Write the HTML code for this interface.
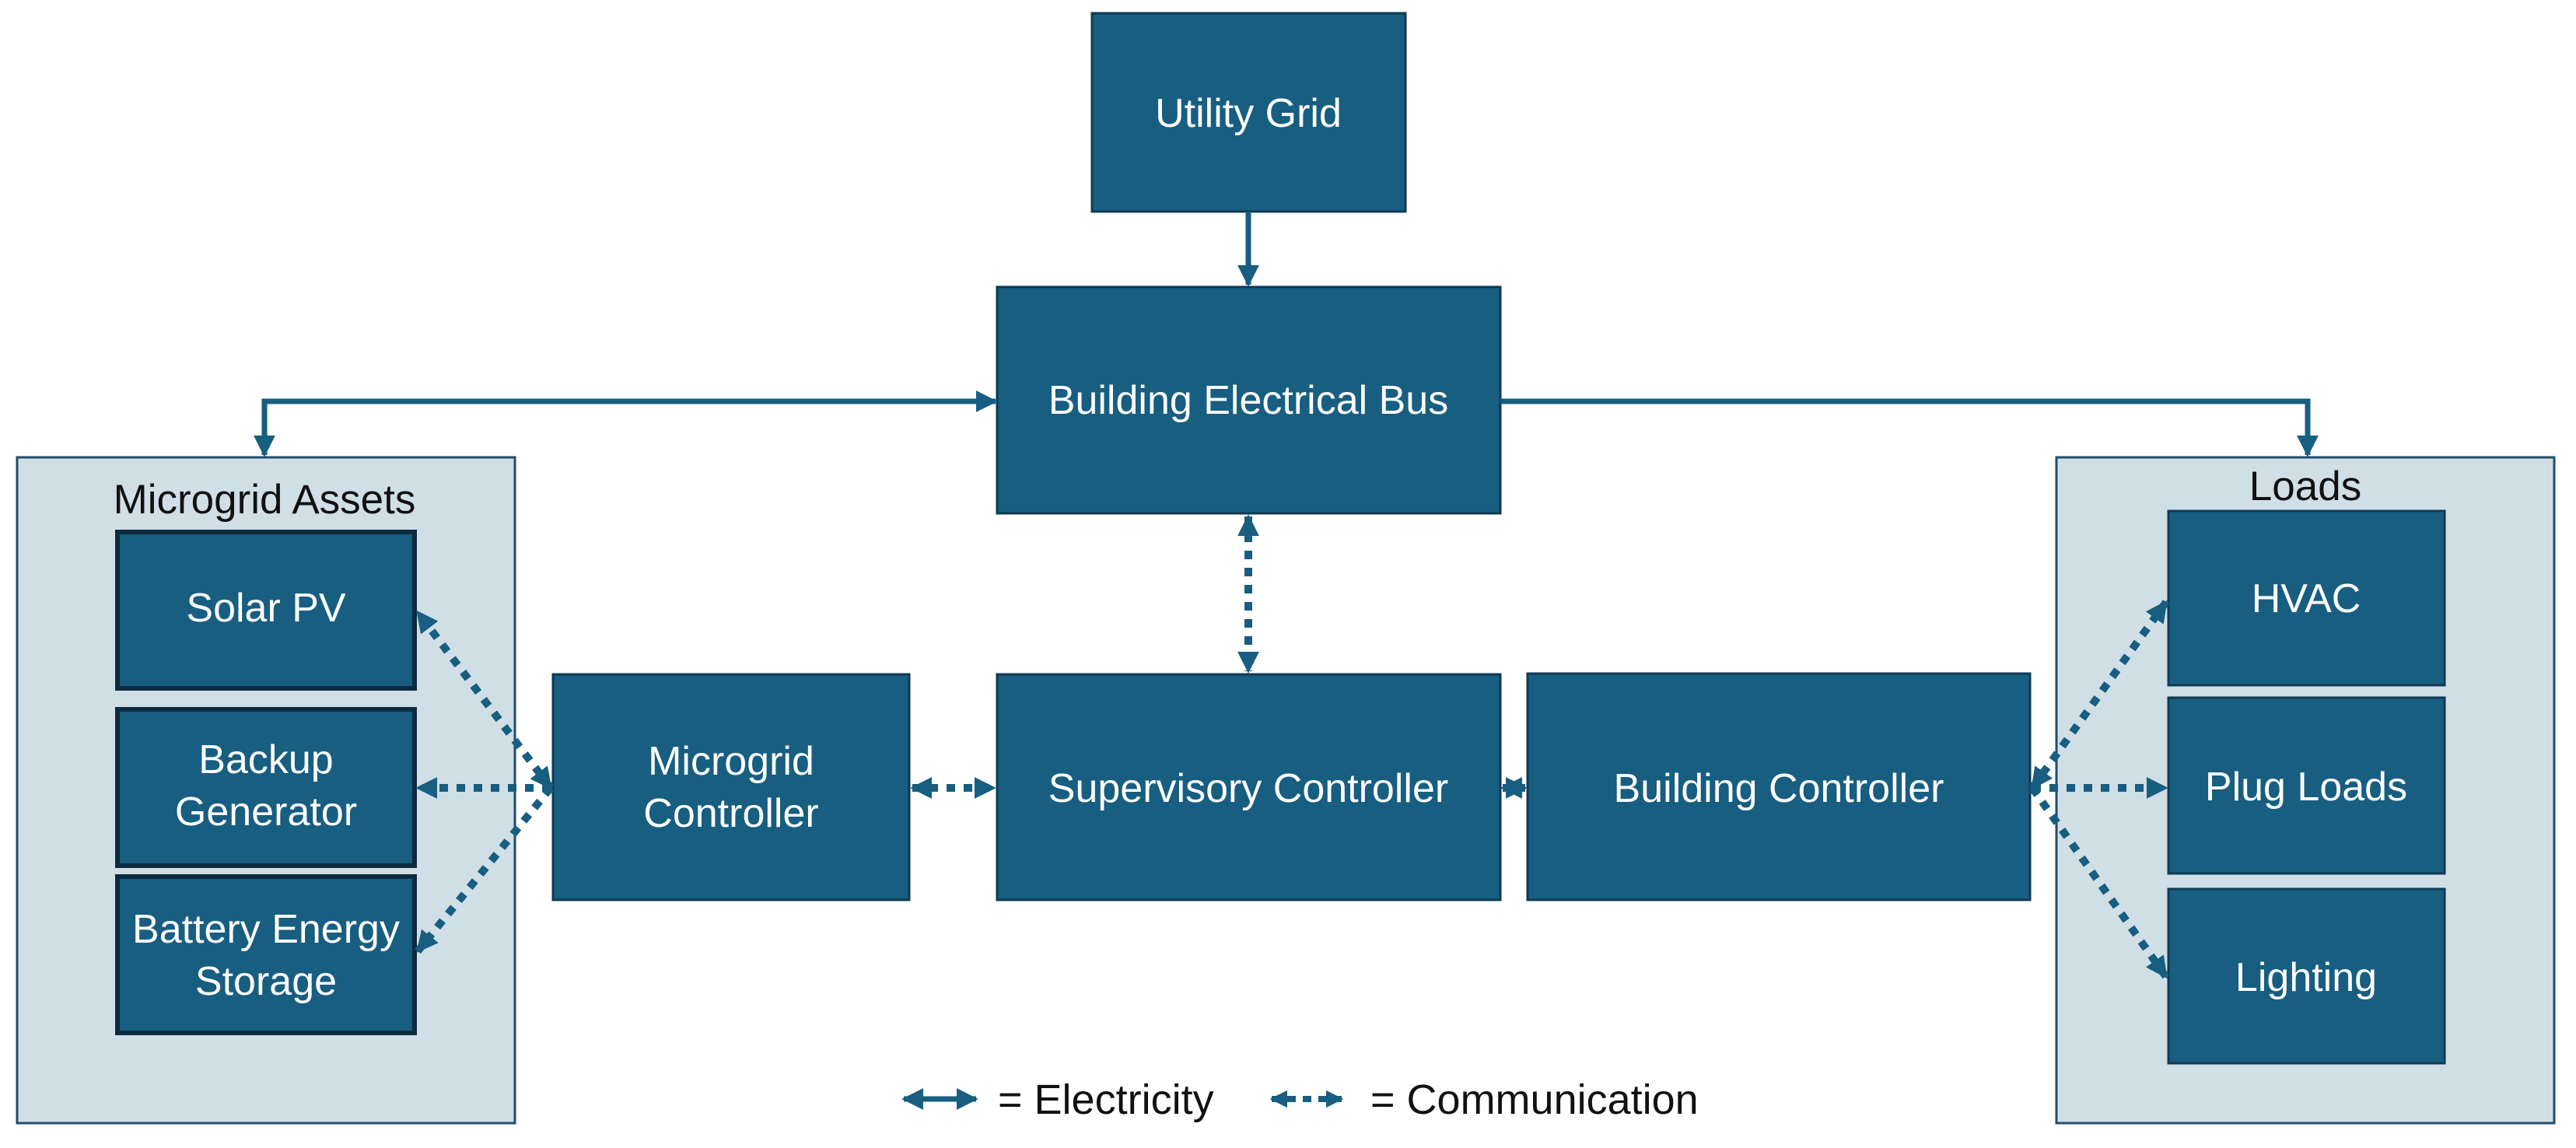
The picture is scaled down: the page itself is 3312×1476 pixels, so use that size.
<!DOCTYPE html>
<html><head><meta charset="utf-8"><style>
html,body{margin:0;padding:0;background:#fff}
svg{display:block}
text{font-family:"Liberation Sans",sans-serif}
</style></head><body>
<svg width="3312" height="1476" viewBox="0 0 3312 1476" xmlns="http://www.w3.org/2000/svg">
<defs>
<marker id="ah" viewBox="0 0 10 10" refX="9" refY="5" markerWidth="4" markerHeight="4" orient="auto-start-reverse" markerUnits="strokeWidth">
<path d="M0,0 L10,5 L0,10 Z" fill="#175e81"/></marker>
<marker id="ahd" viewBox="0 0 10 10" refX="9" refY="5" markerWidth="2.8" markerHeight="2.8" orient="auto-start-reverse" markerUnits="strokeWidth">
<path d="M0,0 L10,5 L0,10 Z" fill="#175e81"/></marker>
</defs>
<rect x="22" y="588" width="640" height="856" fill="#d0dee6" stroke="#1f4e6a" stroke-width="3"/>
<rect x="2644" y="588" width="640" height="856" fill="#d0dee6" stroke="#1f4e6a" stroke-width="3"/>
<text x="340" y="660" font-size="53" text-anchor="middle" fill="#111">Microgrid Assets</text>
<text x="2964" y="643" font-size="53" text-anchor="middle" fill="#111">Loads</text>

<g fill="#175e81" stroke="#0f3a52" stroke-width="3">
<rect x="1404" y="17" width="403" height="255"/>
<rect x="1282" y="369" width="647" height="291"/>
<rect x="711" y="867" width="458" height="290"/>
<rect x="1282" y="867" width="647" height="290"/>
<rect x="1964" y="866" width="646" height="291"/>
<rect x="2788" y="657" width="355" height="224"/>
<rect x="2788" y="897" width="355" height="226"/>
<rect x="2788" y="1143" width="355" height="224"/>
</g>
<g fill="#175e81" stroke="#0d2b3e" stroke-width="6">
<rect x="151" y="684" width="382" height="201"/>
<rect x="151" y="912" width="382" height="201"/>
<rect x="151" y="1127" width="382" height="201"/>
</g>

<g fill="#fff" font-size="52" text-anchor="middle">
<text x="1605" y="163">Utility Grid</text>
<text x="1605" y="532">Building Electrical Bus</text>
<text x="940" y="996">Microgrid</text>
<text x="940" y="1063">Controller</text>
<text x="1605" y="1031">Supervisory Controller</text>
<text x="2287" y="1031">Building  Controller</text>
<text x="2965" y="787">HVAC</text>
<text x="2965" y="1029">Plug Loads</text>
<text x="2965" y="1274">Lighting</text>
<text x="342" y="799">Solar PV</text>
<text x="342" y="994">Backup</text>
<text x="342" y="1061">Generator</text>
<text x="342" y="1212">Battery Energy</text>
<text x="342" y="1279">Storage</text>
</g>

<g stroke="#175e81" stroke-width="7" fill="none">
<line x1="1605" y1="272" x2="1605" y2="366" marker-end="url(#ah)"/>
<polyline points="1280,516 340,516 340,585" marker-start="url(#ah)" marker-end="url(#ah)"/>
<polyline points="1929,516 2967,516 2967,585" marker-end="url(#ah)"/>
</g>
<g stroke="#175e81" stroke-width="10" fill="none" stroke-dasharray="11 11">
<line x1="1605" y1="664" x2="1605" y2="863" marker-start="url(#ahd)" marker-end="url(#ahd)"/>
<line x1="1173" y1="1013" x2="1278" y2="1013" marker-start="url(#ahd)" marker-end="url(#ahd)"/>
<line x1="1932" y1="1013" x2="1961" y2="1013" marker-start="url(#ahd)" marker-end="url(#ahd)"/>
<line x1="708" y1="1013" x2="537" y2="787" marker-start="url(#ahd)" marker-end="url(#ahd)"/>
<line x1="708" y1="1013" x2="537" y2="1013" marker-end="url(#ahd)"/>
<line x1="708" y1="1013" x2="537" y2="1223" marker-end="url(#ahd)"/>
<line x1="2613" y1="1013" x2="2785" y2="774" marker-start="url(#ahd)" marker-end="url(#ahd)"/>
<line x1="2613" y1="1013" x2="2785" y2="1013" marker-end="url(#ahd)"/>
<line x1="2613" y1="1013" x2="2785" y2="1256" marker-end="url(#ahd)"/>
</g>

<line x1="1162" y1="1413" x2="1255" y2="1413" stroke="#175e81" stroke-width="7" marker-start="url(#ah)" marker-end="url(#ah)"/>
<text x="1283" y="1432" font-size="54" fill="#111">= Electricity</text>
<line x1="1635" y1="1413" x2="1725" y2="1413" stroke="#175e81" stroke-width="8" stroke-dasharray="11 9" marker-start="url(#ahd)" marker-end="url(#ahd)"/>
<text x="1762" y="1432" font-size="54" fill="#111">= Communication</text>
</svg>
</body></html>
